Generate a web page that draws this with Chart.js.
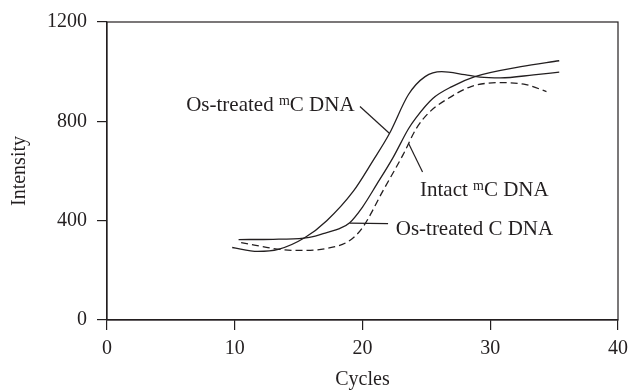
<!DOCTYPE html>
<html>
<head>
<meta charset="utf-8">
<script src="https://cdn.jsdelivr.net/npm/chart.js"></script>
<style>
  html, body { margin: 0; padding: 0; background: #fff; }
  .chart_container { width: 635px; height: 392px; }
</style>
</head>
<body>
<div class="chart_container">
  <canvas id="myChart" width="635" height="392"></canvas>
</div>
<script>
// values (cycle, intensity)
const cyclesOsMC = [9.8, 11.8, 13.4, 15.5, 17.2, 19.3, 20.8, 22.1, 23.6, 24.9, 26.2, 28.0, 29.2, 30.8, 33.4, 35.4];
const osTreatedMC = [292, 276, 284, 332, 400, 520, 640, 750, 908, 980, 1000, 988, 978, 975, 987, 998];

const cyclesOsC = [10.3, 13.0, 15.4, 16.3, 17.2, 18.2, 19.0, 20.0, 21.1, 22.4, 23.6, 24.2, 25.5, 27.0, 28.8, 32.4, 35.4];
const osTreatedC = [324, 325, 330, 338, 352, 368, 392, 455, 545, 655, 770, 815, 892, 940, 980, 1020, 1044];

const cyclesIntact = [10.5, 13.6, 15.2, 17.2, 19.0, 20.0, 21.6, 23.2, 24.2, 25.2, 26.7, 28.5, 30.8, 32.8, 34.4];
const intactMC = [312, 284, 280, 288, 320, 372, 520, 668, 770, 835, 892, 940, 956, 948, 920];

const xTicks = [0, 10, 20, 30, 40];
const yTicks = [0, 400, 800, 1200];

function pts(xs, ys) {
  return xs.map((v, i) => ({ x: v, y: ys[i] }));
}

const serif = '"Liberation Serif", "DejaVu Serif", serif';
const ink = '#231f20';

// curve labels with leader lines, in data coordinates
const callouts = [
  { parts: [['Os-treated ', 0], ['m', 1], ['C DNA', 0]], at: [6.2, 840], from: [19.8, 860], to: [22.1, 752] },
  { parts: [['Intact ', 0], ['m', 1], ['C DNA', 0]], at: [24.5, 500], from: [24.7, 596], to: [23.6, 712] },
  { parts: [['Os-treated C DNA', 0]], at: [22.6, 344], from: [22.0, 388], to: [19.0, 390] }
];

const labelPlugin = {
  id: 'curveLabels',
  afterDatasetsDraw(chart) {
    const { ctx, scales: { x, y } } = chart;
    ctx.save();
    ctx.strokeStyle = ink;
    ctx.fillStyle = ink;
    ctx.lineWidth = 1.2;
    ctx.textBaseline = 'alphabetic';
    callouts.forEach(c => {
      ctx.beginPath();
      ctx.moveTo(x.getPixelForValue(c.from[0]), y.getPixelForValue(c.from[1]));
      ctx.lineTo(x.getPixelForValue(c.to[0]), y.getPixelForValue(c.to[1]));
      ctx.stroke();
      let px = x.getPixelForValue(c.at[0]);
      const py = y.getPixelForValue(c.at[1]);
      c.parts.forEach(([t, sup]) => {
        ctx.font = (sup ? '14px ' : '21px ') + serif;
        ctx.fillText(t, px, sup ? py - 6 : py);
        px += ctx.measureText(t).width;
      });
    });
    ctx.restore();
  },
  afterDraw(chart) {
    const { ctx, chartArea: a } = chart;
    ctx.save();
    ctx.strokeStyle = ink;
    ctx.lineWidth = 1.2;
    ctx.strokeRect(a.left, a.top, a.right - a.left, a.bottom - a.top);
    ctx.restore();
  }
};

var ctx = document.getElementById('myChart').getContext('2d');
var myChart = new Chart(ctx, {
  type: 'line',
  data: {
    datasets: [{
      label: 'Os-treated mC DNA',
      data: pts(cyclesOsMC, osTreatedMC),
      borderColor: ink,
      borderWidth: 1.3,
      pointRadius: 0,
      cubicInterpolationMode: 'monotone',
      fill: false
    }, {
      label: 'Os-treated C DNA',
      data: pts(cyclesOsC, osTreatedC),
      borderColor: ink,
      borderWidth: 1.3,
      pointRadius: 0,
      cubicInterpolationMode: 'monotone',
      fill: false
    }, {
      label: 'Intact mC DNA',
      data: pts(cyclesIntact, intactMC),
      borderColor: ink,
      borderWidth: 1.3,
      borderDash: [7, 4],
      pointRadius: 0,
      cubicInterpolationMode: 'monotone',
      fill: false
    }]
  },
  options: {
    responsive: false,
    animation: false,
    layout: { padding: { left: 0, right: 12, top: 20, bottom: 0 } },
    plugins: { legend: { display: false }, tooltip: { enabled: false } },
    scales: {
      x: {
        type: 'linear',
        min: 0, max: 40,
        afterFit(s) { s.height = 72; },
        afterBuildTicks(s) { s.ticks = xTicks.map(v => ({ value: v })); },
        grid: { drawOnChartArea: false, tickLength: 10, color: ink, lineWidth: 1.2 },
        border: { color: ink, width: 1.2 },
        ticks: { color: ink, padding: 7, font: { family: serif, size: 20 }, callback: v => String(v) },
        title: { display: true, text: 'Cycles', color: ink, padding: { top: 0, bottom: 0 }, font: { family: serif, size: 20 } }
      },
      y: {
        min: 0, max: 1200,
        afterFit(s) { s.width = 107; },
        afterBuildTicks(s) { s.ticks = yTicks.map(v => ({ value: v })); },
        grid: { drawOnChartArea: false, tickLength: 10, color: ink, lineWidth: 1.2 },
        border: { color: ink, width: 1.2 },
        ticks: { color: ink, padding: 10, font: { family: serif, size: 20 }, callback: v => String(v) },
        title: { display: true, text: 'Intensity', color: ink, padding: { top: 8, bottom: 0 }, font: { family: serif, size: 20 } }
      }
    }
  },
  plugins: [labelPlugin]
});
</script>
</body>
</html>
